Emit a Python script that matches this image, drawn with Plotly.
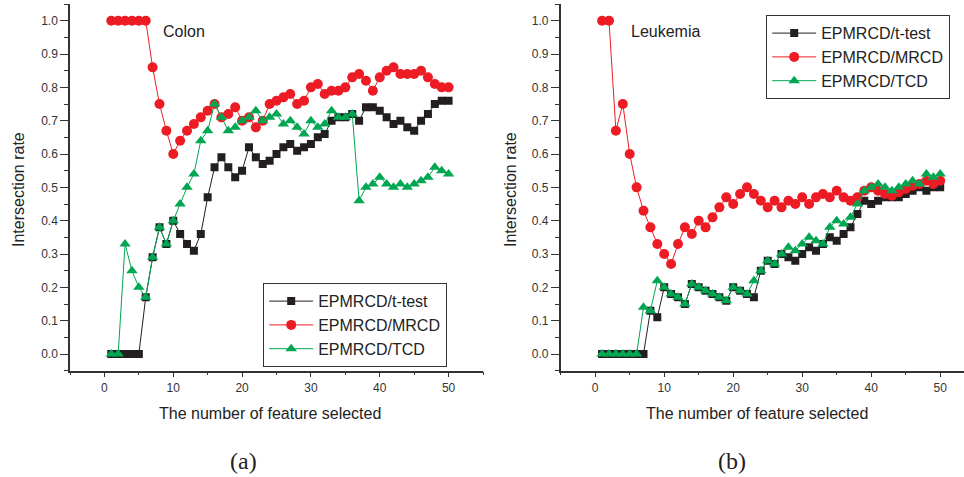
import plotly.graph_objects as go

features = list(range(1, 51))

colon_ttest = [0, 0, 0, 0, 0, 0.17, 0.29, 0.38, 0.33, 0.40,
               0.36, 0.33, 0.31, 0.36, 0.47, 0.56, 0.59, 0.56, 0.53, 0.55,
               0.62, 0.59, 0.57, 0.58, 0.60, 0.62, 0.63, 0.61, 0.62, 0.63,
               0.65, 0.66, 0.70, 0.71, 0.71, 0.72, 0.70, 0.74, 0.74, 0.73,
               0.71, 0.69, 0.70, 0.68, 0.67, 0.70, 0.72, 0.75, 0.76, 0.76]
colon_mrcd = [1, 1, 1, 1, 1, 1, 0.86, 0.75, 0.67, 0.60,
              0.64, 0.67, 0.69, 0.71, 0.73, 0.75, 0.71, 0.72, 0.74, 0.70,
              0.71, 0.68, 0.70, 0.75, 0.76, 0.77, 0.78, 0.75, 0.76, 0.80,
              0.81, 0.78, 0.79, 0.79, 0.80, 0.83, 0.84, 0.82, 0.79, 0.83,
              0.85, 0.86, 0.84, 0.84, 0.84, 0.85, 0.83, 0.81, 0.80, 0.80]
colon_tcd = [0, 0, 0.33, 0.25, 0.20, 0.17, 0.29, 0.38, 0.33, 0.40,
             0.45, 0.50, 0.54, 0.64, 0.67, 0.75, 0.71, 0.67, 0.68, 0.70,
             0.71, 0.73, 0.70, 0.71, 0.72, 0.69, 0.70, 0.68, 0.66, 0.70,
             0.68, 0.69, 0.73, 0.71, 0.71, 0.72, 0.46, 0.50, 0.51, 0.53,
             0.51, 0.50, 0.51, 0.50, 0.51, 0.52, 0.53, 0.56, 0.55, 0.54]

leuk_ttest = [0, 0, 0, 0, 0, 0, 0, 0.13, 0.11, 0.20,
              0.18, 0.17, 0.15, 0.21, 0.20, 0.19, 0.18, 0.17, 0.16, 0.20,
              0.19, 0.18, 0.17, 0.25, 0.28, 0.27, 0.30, 0.29, 0.28, 0.30,
              0.32, 0.31, 0.33, 0.35, 0.34, 0.36, 0.38, 0.42, 0.46, 0.45,
              0.46, 0.47, 0.47, 0.47, 0.48, 0.49, 0.50, 0.49, 0.50, 0.50]
leuk_mrcd = [1, 1, 0.67, 0.75, 0.60, 0.50, 0.43, 0.38, 0.33, 0.30,
             0.27, 0.33, 0.38, 0.36, 0.40, 0.38, 0.41, 0.44, 0.47, 0.45,
             0.48, 0.50, 0.48, 0.46, 0.44, 0.46, 0.44, 0.46, 0.45, 0.47,
             0.45, 0.47, 0.48, 0.47, 0.49, 0.47, 0.46, 0.47, 0.49, 0.50,
             0.49, 0.48, 0.475, 0.485, 0.495, 0.505, 0.51, 0.52, 0.51, 0.52]
leuk_tcd = [0, 0, 0, 0, 0, 0, 0.14, 0.13, 0.22, 0.20,
            0.18, 0.17, 0.15, 0.21, 0.20, 0.19, 0.18, 0.17, 0.16, 0.20,
            0.19, 0.18, 0.22, 0.25, 0.28, 0.27, 0.30, 0.32, 0.31, 0.33,
            0.35, 0.34, 0.33, 0.38, 0.40, 0.39, 0.41, 0.45, 0.49, 0.50,
            0.51, 0.50, 0.49, 0.50, 0.51, 0.52, 0.51, 0.54, 0.53, 0.54]

series_names = ["EPMRCD/t-test", "EPMRCD/MRCD", "EPMRCD/TCD"]
panel_titles = ["Colon", "Leukemia"]
panel_labels = ["(a)", "(b)"]
x_title = "The number of feature selected"
y_title = "Intersection rate"

colors = ["#231f20", "#ed1c24", "#00a651"]
symbols = ["square", "circle", "triangle-up"]
sizes = [8, 10, 10]

fig = go.Figure()

panels = [
    ("x", "y", "legend", [colon_ttest, colon_mrcd, colon_tcd]),
    ("x2", "y2", "legend2", [leuk_ttest, leuk_mrcd, leuk_tcd]),
]
for xa, ya, lg, data in panels:
    for name, vals, c, s, sz in zip(series_names, data, colors, symbols, sizes):
        fig.add_trace(go.Scatter(
            x=features, y=vals, name=name, mode="lines+markers",
            xaxis=xa, yaxis=ya, legend=lg,
            line=dict(color=c, width=1),
            marker=dict(color=c, symbol=s, size=sz, line=dict(width=0)),
        ))

axis_color = "#333333"
font_family = "Liberation Sans, Arial, sans-serif"

def xaxis_cfg(domain, rng, anchor):
    return dict(domain=domain, range=rng, anchor=anchor,
                showline=True, linecolor=axis_color, linewidth=1.5,
                showgrid=False, zeroline=False,
                ticks="outside", ticklen=5, tickwidth=1.2, tickcolor=axis_color,
                tick0=0, dtick=10,
                tickfont=dict(size=12, color="#333333", family=font_family),
                minor=dict(ticks="outside", ticklen=3, dtick=5, tick0=0,
                           tickcolor=axis_color, tickwidth=1.2, showgrid=False))

def yaxis_cfg(domain, anchor):
    return dict(domain=domain, range=[-0.05, 1.05], anchor=anchor,
                showline=True, linecolor=axis_color, linewidth=1.5,
                showgrid=False, zeroline=False,
                ticks="outside", ticklen=8, tickwidth=1.2, tickcolor=axis_color,
                tick0=0, dtick=0.1, tickformat=".1f",
                tickfont=dict(size=12, color="#333333", family=font_family),
                minor=dict(ticks="outside", ticklen=4, dtick=0.05, tick0=0,
                           tickcolor=axis_color, tickwidth=1.2, showgrid=False))

W, H = 964, 477
ydom = [1 - 370.7 / H, 1 - 4 / H]
fig.update_layout(
    width=W, height=H,
    margin=dict(l=0, r=0, t=0, b=0),
    paper_bgcolor="white", plot_bgcolor="white",
    font=dict(family=font_family, color="#222222"),
    xaxis=xaxis_cfg([70 / W, 483 / W], [-5, 55], "y"),
    yaxis=yaxis_cfg(ydom, "x"),
    xaxis2=xaxis_cfg([560.7 / W, 1.0], [-5, -5 + (W - 560.7) / 6.9], "y2"),
    yaxis2=yaxis_cfg(ydom, "x2"),
    legend=dict(x=263 / W, y=1 - 283 / H, xanchor="left", yanchor="top",
                bordercolor="#333333", borderwidth=1.2, bgcolor="white",
                font=dict(size=16, family=font_family, color="#222222"),
                itemwidth=44, tracegroupgap=0),
    legend2=dict(x=766 / W, y=1 - 15 / H, xanchor="left", yanchor="top",
                 bordercolor="#333333", borderwidth=1.2, bgcolor="white",
                 font=dict(size=16, family=font_family, color="#222222"),
                 itemwidth=44, tracegroupgap=0),
    showlegend=True,
)

annotations = []
for cx, yx_title in [(270, 18), (757, 510)]:
    annotations.append(dict(text=x_title, x=cx / W, y=1 - 413 / H, xref="paper", yref="paper",
                            xanchor="center", yanchor="middle", showarrow=False,
                            font=dict(size=16, family=font_family, color="#222222")))
    annotations.append(dict(text=y_title, x=yx_title / W, y=1 - 190 / H, xref="paper", yref="paper",
                            xanchor="center", yanchor="middle", showarrow=False, textangle=-90,
                            font=dict(size=16, family=font_family, color="#222222")))
annotations.append(dict(text=panel_titles[0], x=161 / W, y=1 - 31 / H, xref="paper", yref="paper",
                        xanchor="left", yanchor="middle", showarrow=False,
                        font=dict(size=16, family=font_family, color="#222222")))
annotations.append(dict(text=panel_titles[1], x=629 / W, y=1 - 31 / H, xref="paper", yref="paper",
                        xanchor="left", yanchor="middle", showarrow=False,
                        font=dict(size=16, family=font_family, color="#222222")))
for lbl, cx in zip(panel_labels, [243, 732]):
    annotations.append(dict(text=lbl, x=cx / W, y=1 - 476 / H, xref="paper", yref="paper",
                            xanchor="center", yanchor="bottom", showarrow=False,
                            font=dict(size=24, family="Liberation Serif, serif", color="#222222")))
fig.update_layout(annotations=annotations)

fig.write_html("out.html",
               config={"displayModeBar": False},
               post_script="document.body.style.margin='0';document.body.style.overflow='hidden';")
